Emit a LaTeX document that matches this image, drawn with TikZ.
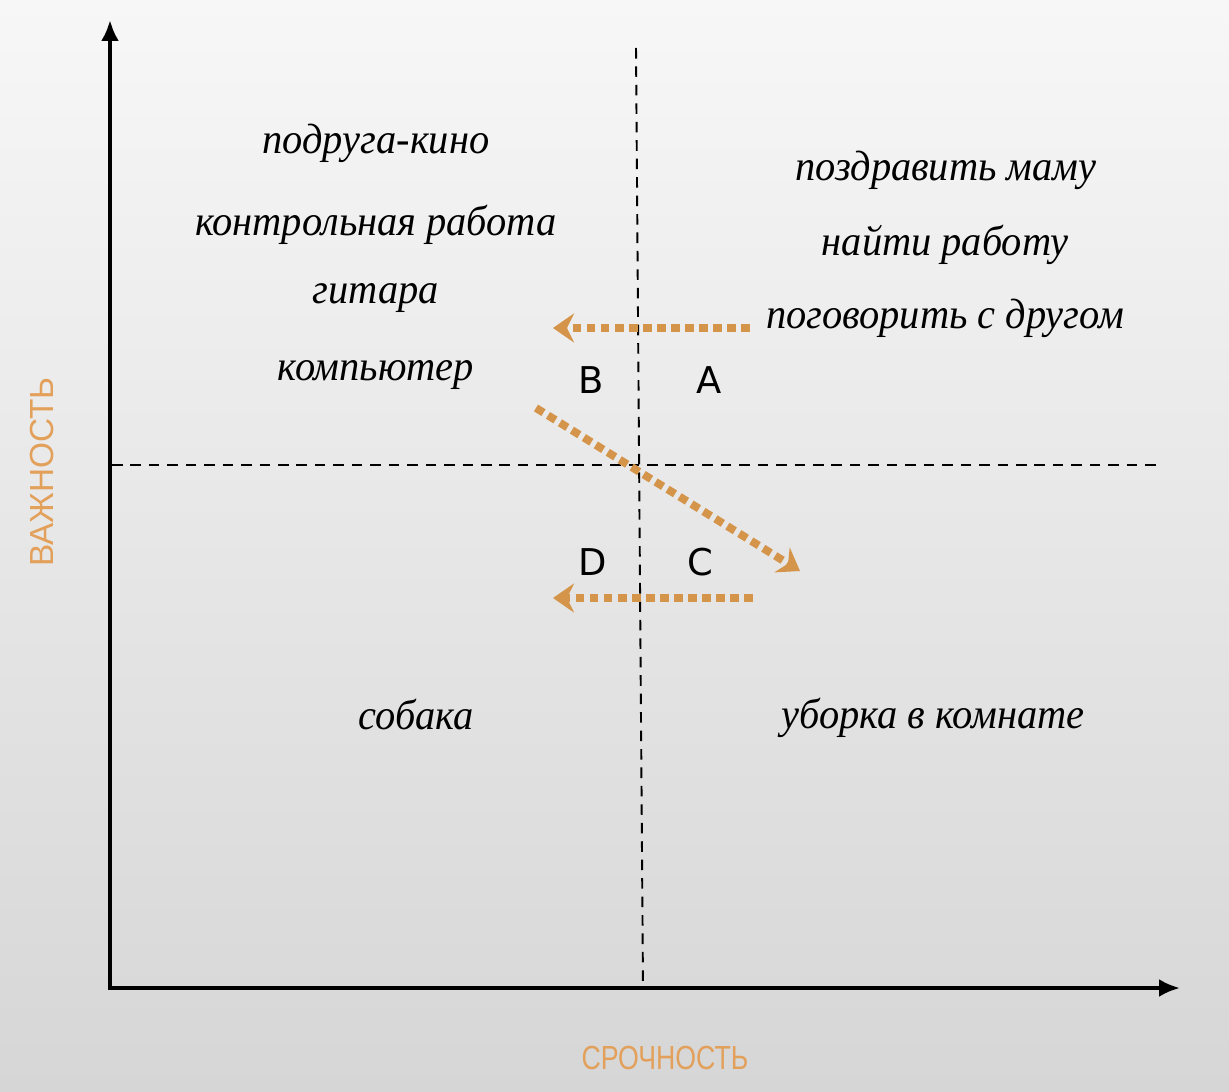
\documentclass[tikz,border=0pt]{standalone}
\usepackage{fontspec}
\setmainfont{Liberation Serif}
\newfontfamily\lblfont{Liberation Sans}
\newfontfamily\letterfont{DejaVu Sans}
\usetikzlibrary{arrows.meta,calc}
\definecolor{bgtop}{HTML}{F7F7F7}
\definecolor{bgbot}{HTML}{D6D6D6}
\definecolor{arrorange}{HTML}{D4954A}
\definecolor{lblorange}{HTML}{E2A05A}
\tikzset{
  axisline/.style={line width=2.3pt,-{Latex[length=0.42cm,width=0.36cm]}},
  divider/.style={line width=1.1pt,dash pattern=on 6pt off 4.5pt},
  movearrow/.style={draw=arrorange,line width=4.5pt,dash pattern=on 5pt off 3pt,
     -{Stealth[length=0.42cm,width=0.58cm,inset=0.14cm,fill=arrorange]}},
  task/.style={font=\itshape\fontsize{23}{27}\selectfont,inner sep=0pt,yscale=1.05},
  quad/.style={font=\letterfont\fontsize{21}{24}\selectfont,inner sep=0pt},
  axislabel/.style={font=\lblfont\fontsize{19}{22}\selectfont,text=lblorange,inner sep=0pt}
}
\begin{document}
\begin{tikzpicture}[x=0.02cm,y=-0.02cm]
\shade[top color=bgtop,bottom color=bgbot] (0,0) rectangle (1229,1091);
\useasboundingbox (0,0) rectangle (1229,1091);
% axes
\coordinate (O) at (110,988);
\coordinate (O2) at (108,988);
\coordinate (Ytop) at (110,20);
\coordinate (Xend) at (1180,988);
\draw[axisline] (O) -- (Ytop);
\draw[axisline] (O2) -- (Xend);
% dividers
\coordinate (Vt) at (636,48);
\coordinate (Vb) at (643,988);
\coordinate (Hl) at (112,465);
\coordinate (Hr) at (1158,465);
\draw[divider] (Vt) -- (Vb);
\draw[divider] (Hl) -- (Hr);
% quadrant letters
\node[quad] (B) at (591,380) {B};
\node[quad] (A) at (709,380) {A};
\node[quad] (D) at (593,562) {D};
\node[quad] (C) at (700,562) {C};
% orange arrows
\coordinate (a1s) at (750,328);
\coordinate (a1e) at (553,328);
\coordinate (a2s) at (536,408);
\coordinate (a2e) at (800,571);
\coordinate (a3s) at (753,598);
\coordinate (a3e) at (553,598);
\draw[movearrow] (a1s) -- (a1e);
\draw[movearrow] (a2s) -- (a2e);
\draw[movearrow] (a3s) -- (a3e);
% tasks
\node[task] (t1) at (376,143) {подруга-кино};
\node[task] (t2) at (376,225) {контрольная работа};
\node[task] (t3) at (376,298) {гитара};
\node[task] (t4) at (376,375) {компьютер};
\node[task] (r1) at (946,170) {поздравить маму};
\node[task] (r2) at (945,245) {найти работу};
\node[task] (r3) at (945,318) {поговорить с другом};
\node[task] (b1) at (416,715) {собака};
\node[task] (b2) at (933,718) {уборка в комнате};
% axis labels
\node[axislabel,rotate=90] (ly) at (42,472) {ВАЖНОСТЬ};
\node[axislabel,xscale=0.8] (lx) at (665,1058) {СРОЧНОСТЬ};
\end{tikzpicture}
\end{document}
